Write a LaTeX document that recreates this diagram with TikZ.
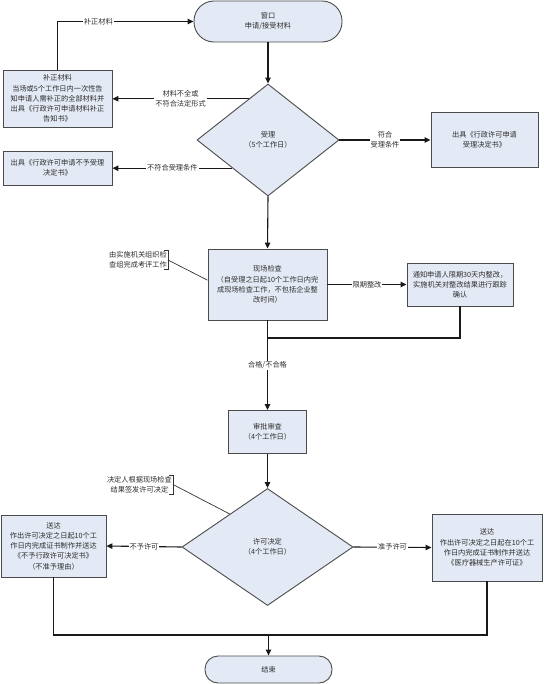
\documentclass[tikz,border=0pt]{standalone}
\usepackage{fontspec}
\setmainfont{Noto Sans CJK SC}
\usetikzlibrary{shapes.geometric,arrows.meta,calc}
\definecolor{boxfill}{RGB}{228,234,245}
\definecolor{boxline}{RGB}{75,75,75}
\definecolor{txt}{RGB}{45,45,45}
\newcommand{\myfs}{\fontsize{7.2}{10.2}\selectfont}
\tikzset{
  box/.style={draw=boxline, fill=boxfill, line width=0.9pt, align=center, inner sep=1pt, text=txt, font=\myfs},
  term/.style={box, rounded corners=#1},
  dia/.style={box, diamond, inner sep=0pt},
  conn/.style={draw=black!90, line width=1.1pt},
  arr/.style={conn, -{Triangle[length=6pt,width=5.5pt]}},
  lbl/.style={fill=white, inner sep=1pt, font=\myfs, text=txt, align=center},
  note/.style={inner sep=1pt, font=\myfs, text=txt, align=center},
  thin/.style={draw=black!80, line width=0.7pt}
}
\begin{document}
\begin{tikzpicture}[x=1pt,y=-1pt]
\useasboundingbox (0,0) rectangle (543,684);

% nodes
\node[term=20pt, minimum width=148pt, minimum height=41pt] (start) at (268,21.5) {窗口\\申请/接受材料};
\node[dia, minimum width=142pt, minimum height=112pt] (d1) at (268,140) {受理\\（5个工作日）};
\node[box, minimum width=109pt, minimum height=57pt] (b1) at (57.5,98.5) {补正材料\\当场或5个工作日内一次性告\\知申请人需补正的全部材料并\\出具《行政许可申请材料补正\\告知书》};
\node[box, minimum width=109pt, minimum height=34pt] (b2) at (57.5,168) {出具《行政许可申请不予受理\\决定书》};
\node[box, minimum width=107pt, minimum height=55pt] (b3) at (484.5,140) {出具《行政许可申请\\受理决定书》};
\node[box, minimum width=119pt, minimum height=71pt] (chk) at (267.5,284.5) {现场检查\\（自受理之日起10个工作日内完\\成现场检查工作，不包括企业整\\改时间）};
\node[box, minimum width=106pt, minimum height=43pt] (ntc) at (460,284.5) {通知申请人限期30天内整改，\\实施机关对整改结果进行跟踪\\确认};
\node[box, minimum width=78pt, minimum height=43pt] (rev) at (267.5,432) {审批审查\\（4个工作日）};
\node[dia, minimum width=171pt, minimum height=117pt] (d3) at (267.5,547) {许可决定\\（4个工作日）};
\node[box, minimum width=105pt, minimum height=62pt] (b6) at (53.5,546) {送达\\作出许可决定之日起10个工\\作日内完成证书制作并送达\\《不予行政许可决定书》\\（不准予理由）};
\node[box, minimum width=110pt, minimum height=67pt] (b7) at (487,547.5) {送达\\作出许可决定之日起在10个工\\作日内完成证书制作并送达\\《医疗器械生产许可证》};
\node[term=13pt, minimum width=127pt, minimum height=27pt] (end) at (268.5,669.5) {结束};

% annotations
\node[note, anchor=east] (a1) at (168,260) {由实施机关组织检\\查组完成考评工作};
\node[note, anchor=east] (a2) at (173,484.5) {决定人根据现场检查\\结果签发许可决定};
\draw[thin] ([xshift=-4pt]a1.north east) -- (a1.north east) -- (a1.south east) -- ([xshift=-4pt]a1.south east);
\draw[thin] ([xshift=-4pt]a2.north east) -- (a2.north east) -- (a2.south east) -- ([xshift=-4pt]a2.south east);
\draw[thin] (a1.east) -- ($(chk.north west)!0.44!(chk.south west)$);
\draw[thin] (a2.east) -- ($(d3.north)!0.44!(d3.west)$);

% connectors
\draw[arr] (start.south) -- (d1.north);
\coordinate (d1a) at ($(d1.north)!0.27!(d1.west)$);
\coordinate (d1b) at ($(d1.west)!0.5!(d1.south)$);
\draw[arr] (d1a) -- (d1a -| b1.east) node[lbl, pos=0.5] {材料不全或\\不符合法定形式};
\draw[arr] (d1b) -- (d1b -| b2.east) node[lbl, pos=0.5] {不符合受理条件};
\draw[arr] (d1.east) -- (b3.west) node[lbl, pos=0.5] {符合\\受理条件};
\draw[arr] (b1.north) -- (b1.north |- start.west) -- (start.west) node[lbl, pos=0.3] {补正材料};
\draw[arr] (d1.south) -- (chk.north);
\draw[arr] (chk.east) -- (ntc.west) node[lbl, pos=0.5] {限期整改};
\coordinate (j1) at (267.5,338);
\draw[conn] (ntc.south) |- (j1);
\draw[arr] (chk.south) -- (rev.north) node[lbl, pos=0.5] {合格/不合格};
\draw[arr] (rev.south) -- (d3.north);
\draw[arr] (d3.west) -- (b6.east) node[lbl, pos=0.5] {不予许可};
\draw[arr] (d3.east) -- (b7.west) node[lbl, pos=0.5] {准予许可};
\coordinate (j2) at (268.5,635);
\draw[conn] (b6.south) -- (b6.south |- j2) -- (b7.south |- j2) -- (b7.south);
\draw[arr] (j2) -- (end.north);
\end{tikzpicture}
\end{document}
